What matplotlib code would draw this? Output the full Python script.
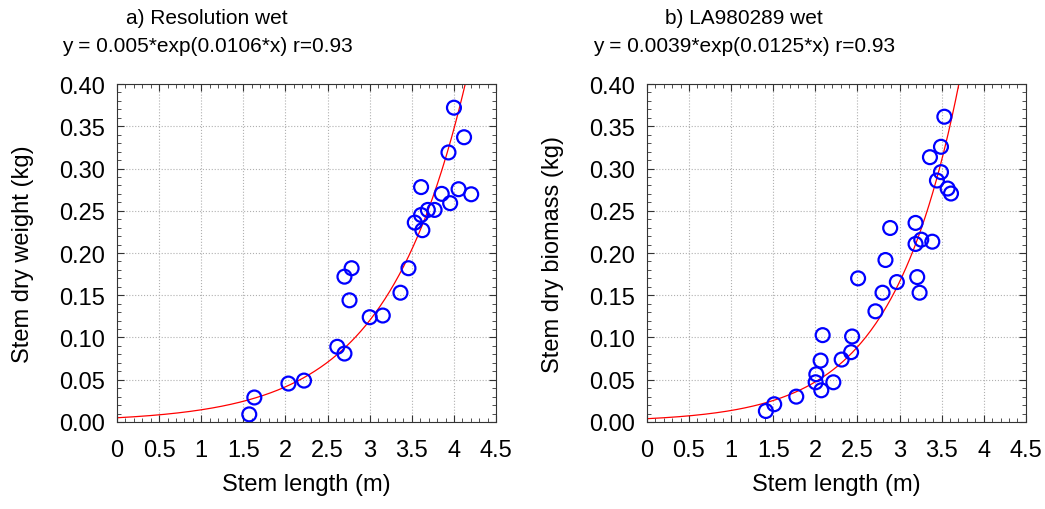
import numpy as np
import matplotlib.pyplot as plt
from matplotlib.ticker import MultipleLocator, FormatStrFormatter

plt.rcParams['font.family'] = ['Liberation Sans', 'DejaVu Sans']

# a) Resolution wet
len_a = [1.57, 1.63, 2.035, 2.22, 2.615, 2.70, 2.70, 2.785, 2.76, 3.00, 3.155, 3.365,
         3.46, 3.535, 3.61, 3.625, 3.61, 3.69, 3.77, 3.855, 3.955, 3.935, 4.00, 4.055,
         4.12, 4.205]
wt_a = [0.009, 0.029, 0.0455, 0.049, 0.089, 0.081, 0.172, 0.182, 0.144, 0.124, 0.126, 0.153,
        0.182, 0.236, 0.245, 0.227, 0.278, 0.251, 0.251, 0.270, 0.259, 0.319, 0.372, 0.2755,
        0.337, 0.2695]
coef_a = (0.005, 0.0106)

# b) LA980289 wet
len_b = [1.413, 1.512, 1.774, 2.012, 2.004, 2.071, 2.063, 2.087, 2.214, 2.313, 2.425, 2.437,
         2.508, 2.714, 2.798, 2.833, 2.889, 2.968, 3.19, 3.19, 3.258, 3.21, 3.238, 3.389,
         3.361, 3.444, 3.492, 3.492, 3.532, 3.571, 3.611]
wt_b = [0.013, 0.021, 0.030, 0.0565, 0.047, 0.0375, 0.0727, 0.1028, 0.047, 0.0739, 0.0826, 0.1012,
        0.170, 0.131, 0.153, 0.1917, 0.2296, 0.1656, 0.2356, 0.2107, 0.2158, 0.1715, 0.153, 0.2134,
        0.3134, 0.2858, 0.2957, 0.3257, 0.3613, 0.2763, 0.2704]
coef_b = (0.0039, 0.0125)

panels = [
    ("a) Resolution wet\ny = 0.005*exp(0.0106*x) r=0.93", "Stem dry weight (kg)", len_a, wt_a, coef_a),
    ("b) LA980289 wet\ny = 0.0039*exp(0.0125*x) r=0.93", "Stem dry biomass (kg)", len_b, wt_b, coef_b),
]

fig = plt.figure(figsize=(10.45, 5.1), dpi=100)
lefts = [0.112, 0.619]
title_x = [207 / 1045, 744 / 1045]
for left, tx, (title, ylab, xs, ys, (a, b)) in zip(lefts, title_x, panels):
    ax = fig.add_axes([left, 0.1706, 0.3627, 0.6627])
    xx = np.linspace(0, 4.5, 400)
    # fit uses x in cm
    ax.plot(xx, a * np.exp(b * xx * 100), color='red', lw=0.9, zorder=2)
    ax.scatter(xs, ys, s=100, facecolors='none', edgecolors='blue', linewidths=1.6, zorder=3)
    ax.set_xlim(0, 4.5)
    ax.set_ylim(0, 0.4)
    ax.xaxis.set_major_locator(MultipleLocator(0.5))
    ax.xaxis.set_minor_locator(MultipleLocator(0.1))
    ax.yaxis.set_major_locator(MultipleLocator(0.05))
    ax.yaxis.set_minor_locator(MultipleLocator(0.01))
    ax.yaxis.set_major_formatter(FormatStrFormatter('%.2f'))
    ax.xaxis.set_major_formatter(lambda v, p: f"{v:g}")
    ax.tick_params(which='both', direction='in', top=True, right=True, labelsize=17, color='#333333')
    ax.tick_params(which='major', length=5)
    ax.tick_params(which='minor', length=3)
    ax.tick_params(axis='x', which='major', pad=12)
    ax.tick_params(axis='y', which='major', pad=8.5)
    ax.grid(True, which='major', ls=':', color='#b0b0b0', lw=0.8)
    for s in ax.spines.values():
        s.set_color('#333333')
    fig.text(tx, 1 - 9 / 510, title, ha='center', va='top', fontsize=15, linespacing=1.6)
    ax.set_xlabel("Stem length (m)", fontsize=17)
    ax.set_ylabel(ylab, fontsize=17)
    ax.xaxis.set_label_coords(0.5, -0.15)
    ax.yaxis.set_label_coords(-0.218, 0.5)

fig.savefig("out.png", dpi=100)
